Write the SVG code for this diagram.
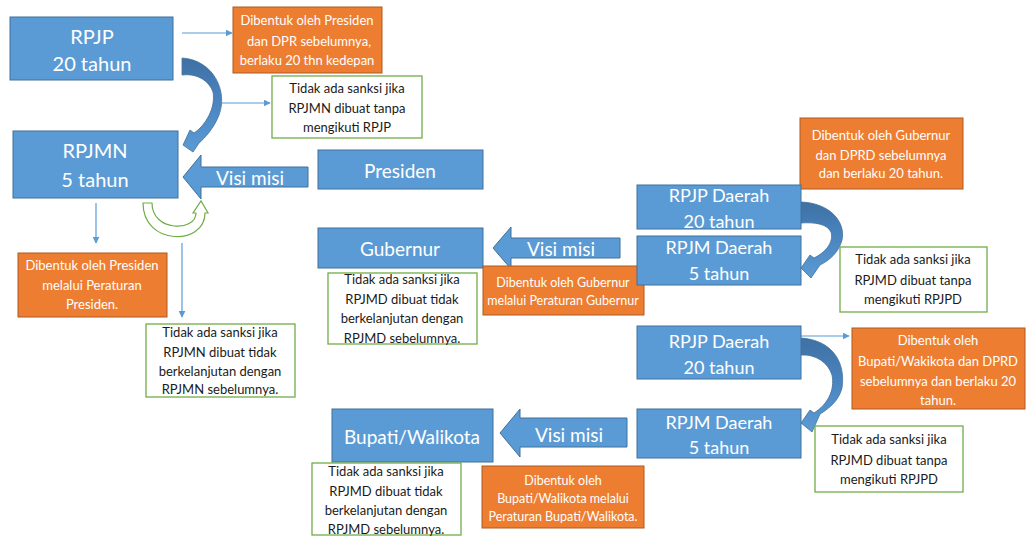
<svg xmlns="http://www.w3.org/2000/svg" width="1027" height="538" viewBox="0 0 1027 538">
<style>
.blue{fill:#5b9bd5;stroke:#41719c;stroke-width:1}
.orange{fill:#ed7d31;stroke:#ae5a21;stroke-width:1}
.green{fill:#ffffff;stroke:#70ad47;stroke-width:1.3}
.lbl{font-family:Lato,"Liberation Sans",sans-serif;fill:#ffffff;text-anchor:middle;dominant-baseline:central}
.big{font-size:20px}
.mid{font-size:19px}
.sm{font-size:18px}
.ow{font-family:Lato,"Liberation Sans",sans-serif;fill:#ffffff;font-size:13px;text-anchor:middle;dominant-baseline:central}
.gt{font-family:Lato,"Liberation Sans",sans-serif;fill:#1a1a1a;font-size:13px;text-anchor:middle;dominant-baseline:central}
.thin{stroke:#5b9bd5;stroke-width:1.2;fill:none;marker-end:url(#ah)}
.curve{fill:url(#cg);stroke:#41719c;stroke-width:0.8}
.uturn{fill:#ffffff;stroke:#70ad47;stroke-width:1.2}
</style>
<defs>
<marker id="ah" viewBox="0 0 10 10" refX="9" refY="5" markerWidth="7" markerHeight="7" orient="auto" markerUnits="userSpaceOnUse">
<path d="M0,0 L10,5 L0,10 Z" fill="#5b9bd5"/>
</marker>
<linearGradient id="cg" x1="0" y1="0" x2="0" y2="1">
<stop offset="0" stop-color="#3e70a3"/>
<stop offset="0.45" stop-color="#4a84bf"/>
<stop offset="1" stop-color="#5b9bd5"/>
</linearGradient>
</defs>
<rect x="0" y="0" width="1027" height="538" fill="#ffffff"/>

<g id="connectors">
<line class="thin" x1="182" y1="33" x2="232" y2="33"/>
<line class="thin" x1="222" y1="103" x2="270" y2="103"/>
<line class="thin" x1="96" y1="203" x2="96" y2="243"/>
<line class="thin" x1="182" y1="243" x2="182" y2="317"/>
<line class="thin" x1="801" y1="336" x2="849" y2="336"/>
<path class="curve" d="M182,58 C214,60 228,92 219,115 C214,128 205,138 199,143 L193,152 L183,145 L190,130 L194,133 C205,126 216,108 213,92 C209,80 196,73 182,75 Z"/>
<path class="curve" d="M801,202 C830,203 846,222 842,240 C839,252 830,260 820,265 L811,278 L801,268 L810,255 L814,258 C826,252 834,242 831,232 C827,224 815,222 801,223 Z"/>
<path class="curve" d="M801,338 C832,340 846,362 842,388 C839,400 830,408 820,414 L812,432 L801,423 L810,410 L814,413 C828,404 835,390 832,375 C828,362 815,354 801,355 Z"/>
<path class="uturn" d="M143,203 C143,246 205,246 205,213 L208,213 L201,201 L193,213 L196,213 C196,232 152,232 152,203 Z"/>
<path class="blue" d="M183,177 L201,155 L201,167 L308,167 L308,187 L201,187 L201,199 Z"/>
<text class="lbl mid" x="250" y="177">Visi misi</text>
<path class="blue" d="M493,248 L511,227 L511,238 L620,238 L620,258 L511,258 L511,269 Z"/>
<text class="lbl mid" x="561" y="248">Visi misi</text>
<path class="blue" d="M500,433 L520,409 L520,418 L627,418 L627,447 L520,447 L520,457 Z"/>
<text class="lbl mid" x="569" y="434">Visi misi</text>
</g>

<g id="rpjp">
<rect class="blue" x="10" y="17" width="163" height="63"/>
<text class="lbl big" x="92" y="36">RPJP</text>
<text class="lbl big" x="92" y="63">20 tahun</text>
</g>
<g id="note-rpjp">
<rect class="orange" x="233" y="7" width="149" height="66"/>
<text class="ow" x="307" y="20">Dibentuk oleh Presiden</text>
<text class="ow" x="309" y="41">dan DPR sebelumnya,</text>
<text class="ow" x="307" y="60">berlaku 20 thn kedepan</text>
</g>
<g id="note-rpjmn-tanpa">
<rect class="green" x="272" y="76" width="150" height="62"/>
<text class="gt" x="347" y="88">Tidak ada sanksi jika</text>
<text class="gt" x="347" y="108">RPJMN dibuat tanpa</text>
<text class="gt" x="347" y="127">mengikuti RPJP</text>
</g>
<g id="rpjmn">
<rect class="blue" x="13" y="131" width="165" height="67"/>
<text class="lbl big" x="95" y="150">RPJMN</text>
<text class="lbl big" x="95" y="179">5 tahun</text>
</g>
<g id="presiden">
<rect class="blue" x="318" y="150" width="165" height="39"/>
<text class="lbl mid" x="400" y="170">Presiden</text>
</g>
<g id="note-rpjmn-perpres">
<rect class="orange" x="18" y="253" width="149" height="64"/>
<text class="ow" x="92" y="265">Dibentuk oleh Presiden</text>
<text class="ow" x="92" y="285">melalui Peraturan</text>
<text class="ow" x="92" y="304">Presiden.</text>
</g>
<g id="note-rpjmn-lanjut">
<rect class="green" x="146" y="324" width="149" height="73"/>
<text class="gt" x="220" y="332">Tidak ada sanksi jika</text>
<text class="gt" x="220" y="352">RPJMN dibuat tidak</text>
<text class="gt" x="220" y="371">berkelanjutan dengan</text>
<text class="gt" x="220" y="389">RPJMN sebelumnya.</text>
</g>

<g id="gubernur">
<rect class="blue" x="318" y="228" width="165" height="40"/>
<text class="lbl mid" x="400" y="248">Gubernur</text>
</g>
<g id="note-gub-lanjut">
<rect class="green" x="328" y="273" width="149" height="71"/>
<text class="gt" x="402" y="279">Tidak ada sanksi jika</text>
<text class="gt" x="402" y="299">RPJMD dibuat tidak</text>
<text class="gt" x="402" y="318">berkelanjutan dengan</text>
<text class="gt" x="402" y="338">RPJMD sebelumnya.</text>
</g>
<g id="note-gub-pergub">
<rect class="orange" x="483" y="266" width="161" height="49"/>
<text class="ow" x="563" y="282" style="font-size:12.5px">Dibentuk oleh Gubernur</text>
<text class="ow" x="563" y="300" style="font-size:12.5px">melalui Peraturan Gubernur</text>
</g>
<g id="note-prov-rpjpd">
<rect class="orange" x="800" y="118" width="163" height="71"/>
<text class="ow" x="881" y="135">Dibentuk oleh Gubernur</text>
<text class="ow" x="881" y="155">dan DPRD sebelumnya</text>
<text class="ow" x="881" y="173">dan berlaku 20 tahun.</text>
</g>
<g id="rpjpd-prov">
<rect class="blue" x="637" y="185" width="164" height="44"/>
<text class="lbl sm" x="719" y="195">RPJP Daerah</text>
<text class="lbl sm" x="719" y="221">20 tahun</text>
</g>
<g id="rpjmd-prov">
<rect class="blue" x="637" y="236" width="164" height="49"/>
<text class="lbl sm" x="719" y="247">RPJM Daerah</text>
<text class="lbl sm" x="719" y="273">5 tahun</text>
</g>
<g id="note-prov-tanpa">
<rect class="green" x="840" y="247" width="147" height="65"/>
<text class="gt" x="913" y="259">Tidak ada sanksi jika</text>
<text class="gt" x="913" y="280">RPJMD dibuat tanpa</text>
<text class="gt" x="913" y="299">mengikuti RPJPD</text>
</g>

<g id="rpjpd-kab">
<rect class="blue" x="637" y="326" width="164" height="53"/>
<text class="lbl sm" x="719" y="341">RPJP Daerah</text>
<text class="lbl sm" x="719" y="367">20 tahun</text>
</g>
<g id="note-kab-rpjpd">
<rect class="orange" x="852" y="328" width="173" height="81"/>
<text class="ow" x="938" y="340">Dibentuk oleh</text>
<text class="ow" x="938" y="361">Bupati/Wakikota dan DPRD</text>
<text class="ow" x="938" y="381">sebelumnya dan berlaku 20</text>
<text class="ow" x="938" y="400">tahun.</text>
</g>
<g id="rpjmd-kab">
<rect class="blue" x="637" y="409" width="164" height="49"/>
<text class="lbl sm" x="719" y="422">RPJM Daerah</text>
<text class="lbl sm" x="719" y="447">5 tahun</text>
</g>
<g id="note-kab-tanpa">
<rect class="green" x="815" y="426" width="148" height="66"/>
<text class="gt" x="889" y="439">Tidak ada sanksi jika</text>
<text class="gt" x="889" y="460">RPJMD dibuat tanpa</text>
<text class="gt" x="889" y="479">mengikuti RPJPD</text>
</g>
<g id="bupati">
<rect class="blue" x="332" y="409" width="161" height="53"/>
<text class="lbl mid" x="412" y="436">Bupati/Walikota</text>
</g>
<g id="note-kab-lanjut">
<rect class="green" x="312" y="463" width="149" height="72"/>
<text class="gt" x="386" y="471">Tidak ada sanksi jika</text>
<text class="gt" x="386" y="491">RPJMD dibuat tidak</text>
<text class="gt" x="386" y="510">berkelanjutan dengan</text>
<text class="gt" x="386" y="529">RPJMD sebelumnya.</text>
</g>
<g id="note-kab-perbup">
<rect class="orange" x="482" y="466" width="162" height="62"/>
<text class="ow" x="563" y="480" style="font-size:12.5px">Dibentuk oleh</text>
<text class="ow" x="563" y="498" style="font-size:12.5px">Bupati/Walikota melalui</text>
<text class="ow" x="563" y="516" style="font-size:12.5px">Peraturan Bupati/Walikota.</text>
</g>
</svg>
